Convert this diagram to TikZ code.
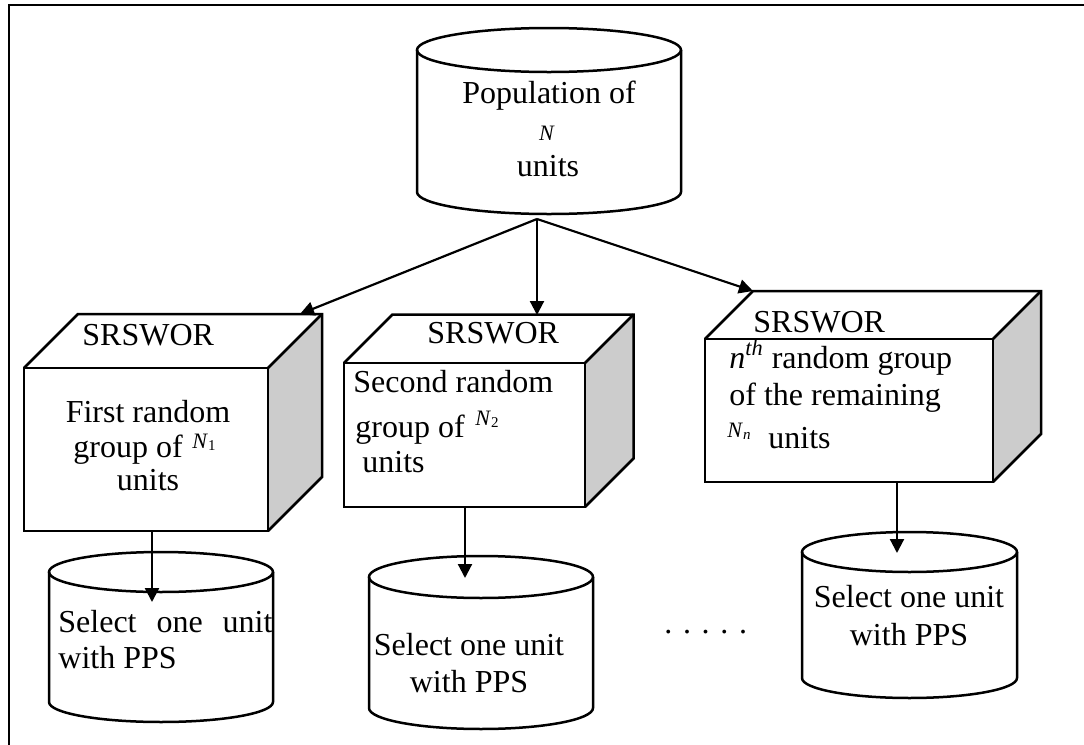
\documentclass[tikz,border=0pt]{standalone}
\usepackage{fontspec}
\setmainfont{Liberation Serif}
\usetikzlibrary{arrows.meta}

\tikzset{
  outline/.style={line width=1.25pt, line join=miter},
  link/.style={line width=1.1pt, -{Triangle[length=7pt,width=7pt]}},
  txt/.style={inner sep=0pt, font=\fontsize{16}{19}\selectfont},
  sidefill/.style={fill=black!20},
}

% small italic N with a subscript
\newcommand\symN[1]{{\fontsize{11}{13}\selectfont\textit{N}\raisebox{-1.4pt}{\fontsize{7.5}{8}\selectfont #1}}}

% cylinder: name, centre x, top y, bottom y, x radius, y radius
\newcommand\drumshape[6]{%
  \draw[outline, fill=white] ({#2-#5},#3) -- ({#2-#5},#4)
    arc[start angle=180, end angle=360, x radius=#5*0.5pt, y radius=#6*0.5pt]
    -- ({#2+#5},#3);
  \draw[outline] (#2,#3) ellipse[x radius=#5*0.5pt, y radius=#6*0.5pt];
  \coordinate (#1-bottom) at (#2,{#4+#6});
}

% box with depth: name, front x1, y1, x2, y2, depth
\newcommand\cubeshape[6]{%
  \fill[sidefill] (#4,#3) -- ({#4+#6},{#3-#6}) -- ({#4+#6},{#5-#6}) -- (#4,#5) -- cycle;
  \draw[outline] (#2,#3) rectangle (#4,#5);
  \draw[outline] (#2,#3) -- ({#2+#6},{#3-#6}) -- ({#4+#6},{#3-#6})
    -- ({#4+#6},{#5-#6}) -- (#4,#5);
  \draw[outline] (#4,#3) -- ({#4+#6},{#3-#6});
}

\begin{document}
\begin{tikzpicture}[x=0.5pt, y=-0.5pt]
\useasboundingbox (0,0) rectangle (1084,745);

% frame
\draw[line width=1.25pt] (1084,5) -- (9,5) -- (9,745);

% population
\drumshape{pop}{549}{50}{192}{132}{22}
\node[txt, anchor=base] (poptext) at (549,103) {Population of};
\node[inner sep=0pt, anchor=base, font=\fontsize{11}{13}\selectfont] (popN) at (547,140) {\textit{N}};
\node[txt, anchor=base] (popunits) at (548,176) {units};

% groups
\cubeshape{g1}{24}{368}{268}{531}{54}
\cubeshape{g2}{344}{363}{585}{507}{48.5}
\cubeshape{g3}{705}{339}{993}{482}{48}

\node[txt, anchor=base west] (s1) at (82,345) {SRSWOR};
\node[txt, anchor=base] (g1a) at (148,422) {First random};
\node[txt, anchor=base west] (g1b) at (73,457) {group of};
\node[inner sep=0pt, anchor=base west] (g1n) at (192,448) {\symN{1}};
\node[txt, anchor=base] (g1c) at (148,490) {units};

\node[txt, anchor=base west] (s2) at (427,343) {SRSWOR};
\node[txt, anchor=base west] (g2a) at (353,392) {Second random};
\node[txt, anchor=base west] (g2b) at (355,437) {group of};
\node[inner sep=0pt, anchor=base west] (g2n) at (475,425) {\symN{2}};
\node[txt, anchor=base west] (g2c) at (362,472) {units};

\node[txt, anchor=base west] (s3) at (753,332) {SRSWOR};
\node[txt, anchor=base west] (g3a) at (729,368) {\textit{n}\textsuperscript{\textit{th}} random group};
\node[txt, anchor=base west] (g3b) at (729,405) {of the remaining};
\node[inner sep=0pt, anchor=base west] (g3n) at (727,437) {\symN{\textit{n}}};
\node[txt, anchor=base west] (g3c) at (768,448) {units};

% selections
\drumshape{d1}{161}{572}{702}{112}{20}
\drumshape{d2}{481}{577}{708}{112}{21}
\drumshape{d3}{909.5}{552}{678}{107.5}{20}

\node[txt, anchor=base west] (d1a) at (58,632) {\makebox[107pt][s]{Select one unit}};
\node[txt, anchor=base west] (d1b) at (58,668) {with PPS};
\node[txt, anchor=base] (d2a) at (469,655) {Select one unit};
\node[txt, anchor=base] (d2b) at (469,692) {with PPS};
\node[txt, anchor=base] (d3a) at (909,607) {Select one unit};
\node[txt, anchor=base] (d3b) at (909,645) {with PPS};

\node[txt, anchor=base west] (more) at (664,633) {.\,\,.\,\,.\,\,.\,\,.};

% connection points
\coordinate (fork) at (537,219);
\coordinate (g1-in) at (300,314);
\coordinate (g2-in) at (537,315);
\coordinate (g3-in) at (753,291);
\coordinate (g1-out) at (152,531);
\coordinate (g2-out) at (465,507);
\coordinate (g3-out) at (897,482);
\coordinate (d1-in) at (152,602);
\coordinate (d2-in) at (465,578);
\coordinate (d3-in) at (897,553);

\draw[link] (fork) -- (g1-in);
\draw[link] (fork) -- (g2-in);
\draw[link] (fork) -- (g3-in);
\draw[link] (g1-out) -- (d1-in);
\draw[link] (g2-out) -- (d2-in);
\draw[link] (g3-out) -- (d3-in);
\end{tikzpicture}
\end{document}
